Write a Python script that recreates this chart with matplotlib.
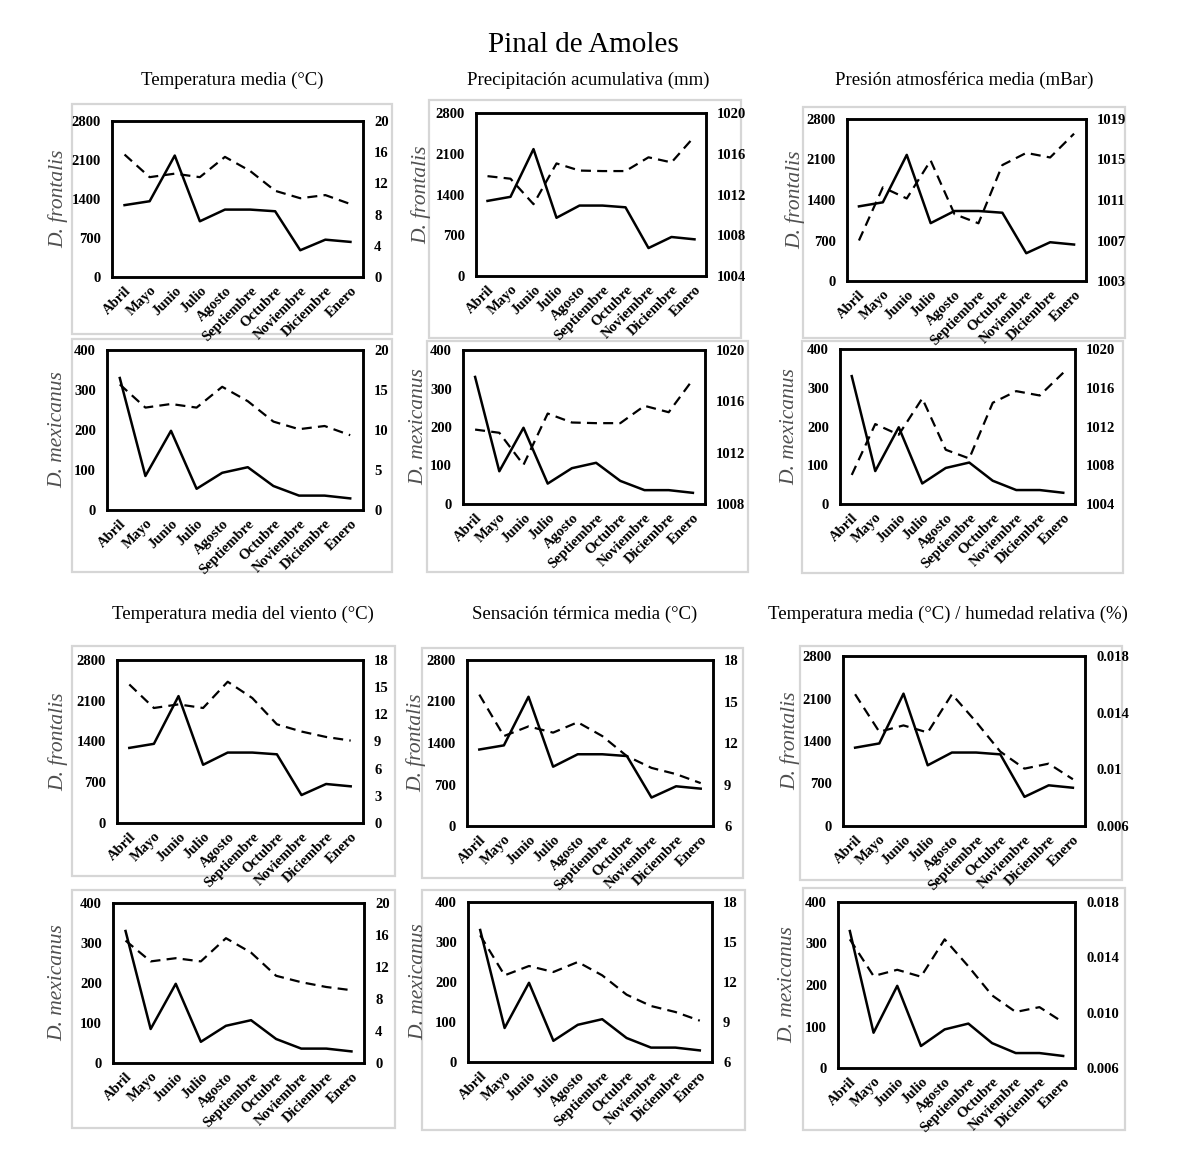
import matplotlib
matplotlib.use('Agg')
import matplotlib.pyplot as plt
from matplotlib.patches import Rectangle

plt.rcParams['font.family'] = ['Liberation Serif', 'DejaVu Serif']

W, H = 1181, 1167

# ---------------- data ----------------
meses = ['Abril', 'Mayo', 'Junio', 'Julio', 'Agosto', 'Septiembre',
         'Octubre', 'Noviembre', 'Diciembre', 'Enero']
d_frontalis = [1290, 1360, 2180, 1000, 1210, 1210, 1180, 480, 670, 630]
d_mexicanus = [330, 85, 198, 53, 93, 107, 60, 36, 36, 29]

temp_media = [15.7, 12.8, 13.25, 12.8, 15.4, 13.6, 11.05, 10.1, 10.5, 9.35]
precipitacion = [1013.8, 1013.55, 1011.05, 1015.05, 1014.35, 1014.3, 1014.3, 1015.65, 1015.15, 1017.7]
presion = [1007.0, 1012.25, 1011.15, 1014.9, 1009.6, 1008.7, 1014.45, 1015.65, 1015.2, 1017.55]
temp_viento = [15.3, 12.7, 13.1, 12.7, 15.6, 13.8, 10.9, 10.1, 9.5, 9.1]
sensacion = [15.5, 12.5, 13.2, 12.75, 13.5, 12.5, 11.05, 10.2, 9.75, 9.1]
humedad = [0.0153, 0.01265, 0.0131, 0.0126, 0.0153, 0.01335, 0.01125, 0.01005, 0.0104, 0.0093]

titulo = 'Pinal de Amoles'
titulos = ['Temperatura media (°C)', 'Precipitación acumulativa (mm)',
           'Presión atmosférica media (mBar)', 'Temperatura media del viento (°C)',
           'Sensación térmica media (°C)', 'Temperatura media (°C) / humedad relativa (%)']

izq_front_ticks = [0, 700, 1400, 2100, 2800]
izq_mex_ticks = [0, 100, 200, 300, 400]

# right-axis tick labels per panel (row, col)
der_ticks = {
    (0, 0): ['0', '4', '8', '12', '16', '20'],
    (0, 1): ['1004', '1008', '1012', '1016', '1020'],
    (0, 2): ['1003', '1007', '1011', '1015', '1019'],
    (1, 0): ['0', '5', '10', '15', '20'],
    (1, 1): ['1008', '1012', '1016', '1020'],
    (1, 2): ['1004', '1008', '1012', '1016', '1020'],
    (2, 0): ['0', '3', '6', '9', '12', '15', '18'],
    (2, 1): ['6', '9', '12', '15', '18'],
    (2, 2): ['0.006', '0.01', '0.014', '0.018'],
    (3, 0): ['0', '4', '8', '12', '16', '20'],
    (3, 1): ['6', '9', '12', '15', '18'],
    (3, 2): ['0.006', '0.010', '0.014', '0.018'],
}
der_vals = {k: [float(s) for s in v] for k, v in der_ticks.items()}

clima = {0: temp_media, 1: precipitacion, 2: presion}
clima_b = {0: temp_viento, 1: sensacion, 2: humedad}

# ---------------- layout (pixels) ----------------
boxes = {
    (0, 0): (112, 121, 363, 277), (0, 1): (476, 113, 706, 276), (0, 2): (847, 119, 1086, 281),
    (1, 0): (107, 350, 363, 510), (1, 1): (463, 350, 705, 504), (1, 2): (840, 349, 1075, 504),
    (2, 0): (117, 660, 363, 823), (2, 1): (467, 660, 713, 826), (2, 2): (843, 656, 1085, 826),
    (3, 0): (113, 903, 364, 1063), (3, 1): (468, 902, 712, 1062), (3, 2): (838, 902, 1075, 1068),
}
frames = {
    (0, 0): (72, 104, 392, 334), (0, 1): (429, 100, 741, 338), (0, 2): (803, 107, 1125, 338),
    (1, 0): (72, 339, 392, 572), (1, 1): (427, 341, 748, 572), (1, 2): (802, 341, 1123, 573),
    (2, 0): (72, 646, 395, 876), (2, 1): (422, 648, 743, 878), (2, 2): (800, 646, 1122, 880),
    (3, 0): (72, 890, 395, 1128), (3, 1): (422, 890, 745, 1130), (3, 2): (803, 888, 1125, 1130),
}
ylabel_x = {
    (0, 0): 58, (0, 1): 421, (0, 2): 795,
    (1, 0): 58, (1, 1): 419, (1, 2): 790,
    (2, 0): 58, (2, 1): 416, (2, 2): 790,
    (3, 0): 58, (3, 1): 419, (3, 2): 788,
}
title_pos = [(232, 80), (588, 80), (964, 80), (243, 614), (585, 614), (948, 614)]

fig = plt.figure(figsize=(W / 100, H / 100), dpi=100)
fig.patch.set_facecolor('white')

for (r, c), (x0, y0, x1, y1) in frames.items():
    fig.add_artist(Rectangle((x0 / W, 1 - y1 / H), (x1 - x0) / W, (y1 - y0) / H,
                             transform=fig.transFigure, fill=False,
                             ec='#d6d6d6', lw=1.6, zorder=0))

fig.text(583 / W, 1 - 45 / H, titulo, ha='center', va='center', fontsize=21)
for (tx, ty), t in zip(title_pos, titulos):
    fig.text(tx / W, 1 - ty / H, t, ha='center', va='center', fontsize=13.5)

xs = list(range(len(meses)))
for (r, c), (l, t, rr, b) in boxes.items():
    ax = fig.add_axes([l / W, 1 - b / H, (rr - l) / W, (b - t) / H])
    frontal = r in (0, 2)
    counts = d_frontalis if frontal else d_mexicanus
    lticks = izq_front_ticks if frontal else izq_mex_ticks
    ax.plot(xs, counts, color='black', lw=1.8, zorder=3)
    ax.set_xlim(-0.5, len(meses) - 0.5)
    ax.set_ylim(lticks[0], lticks[-1])
    ax.set_yticks(lticks)
    ax.set_yticklabels([str(v) for v in lticks], fontweight='bold', fontsize=10.5)
    ax.set_xticks(xs)
    ax.set_xticklabels(meses, rotation=45, ha='right', rotation_mode='anchor',
                       fontweight='bold', fontsize=10.5)
    ax.tick_params(axis='both', length=0)
    ax.tick_params(axis='y', pad=8)
    ax.tick_params(axis='x', pad=5)
    for sp in ax.spines.values():
        sp.set_linewidth(1.8)
        sp.set_color('black')

    ax2 = ax.twinx()
    serie = clima[c] if r < 2 else clima_b[c]
    ax2.plot(xs, serie, color='black', lw=1.6, ls=(0, (4.5, 2.8)), zorder=3)
    rv = der_vals[(r, c)]
    ax2.set_ylim(rv[0], rv[-1])
    ax2.set_yticks(rv)
    ax2.set_yticklabels(der_ticks[(r, c)], fontweight='bold', fontsize=10.5)
    ax2.tick_params(axis='y', length=0, pad=8)
    for sp in ax2.spines.values():
        sp.set_linewidth(1.8)

    name = 'D. frontalis' if frontal else 'D. mexicanus'
    fig.text(ylabel_x[(r, c)] / W, 1 - ((t + b) / 2) / H, name, rotation=90,
             ha='center', va='center', fontsize=15.5, fontstyle='italic', color='#505050')

fig.savefig('out.png', dpi=100, facecolor='white')
